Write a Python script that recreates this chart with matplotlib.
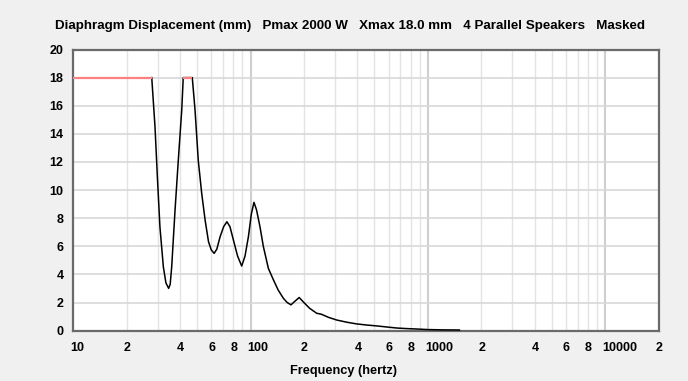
import matplotlib
matplotlib.use("Agg")
import matplotlib.pyplot as plt
import matplotlib.transforms as mtransforms
import numpy as np

# Data (frequency in Hz, displacement in mm)
freq_black = [27.7, 28.9, 29.8, 30.8, 32.2, 33.3, 34.5, 35.2, 35.9, 37.5, 39.1, 40.9, 41.7,
              46.9, 48.6, 50.7, 53.0, 55.4, 57.9, 60.0, 62.3, 64.5, 67.3, 70.5, 73.5, 76.5, 80.0,
              84.5, 89.1, 93.0, 97.2, 101.0, 104.5, 108.0, 113.0, 118.0, 126.0, 134.5, 143.0,
              153.0, 161.0, 169.0, 178.0, 188.0, 200.0, 215.0, 236.0, 251.0, 275.0, 306.0,
              350.0, 398.0, 455.0, 515.0, 590.0, 668.0, 760.0, 866.0, 1000.0, 1200.0, 1506.0]
disp_black = [18.0, 14.5, 10.95, 7.4, 4.55, 3.4, 3.01, 3.3, 4.55, 8.6, 12.1, 15.7, 18.0,
              18.0, 15.7, 12.1, 9.77, 7.87, 6.33, 5.75, 5.5, 5.8, 6.68, 7.4, 7.75, 7.4, 6.45,
              5.3, 4.6, 5.3, 6.68, 8.3, 9.13, 8.6, 7.39, 6.0, 4.43, 3.62, 2.9,
              2.31, 2.0, 1.84, 2.1, 2.36, 2.0, 1.6, 1.24, 1.17, 0.95, 0.76,
              0.6, 0.48, 0.4, 0.34, 0.26, 0.19, 0.15, 0.12, 0.08, 0.06, 0.05]

freq_red1 = [10.0, 27.7]
disp_red1 = [18.0, 18.0]
freq_red2 = [41.7, 46.9]
disp_red2 = [18.0, 18.0]

xticks = [10, 20, 40, 60, 80, 100, 200, 400, 600, 800, 1000, 2000, 4000, 6000, 8000, 10000, 20000]
xticklabels = ["10", "2", "4", "6", "8", "100", "2", "4", "6", "8", "1000", "2", "4", "6", "8", "10000", "2"]
yticks = list(range(0, 21, 2))

title = "Diaphragm Displacement (mm)   Pmax 2000 W   Xmax 18.0 mm   4 Parallel Speakers   Masked"
xlabel = "Frequency (hertz)"

plt.rcParams['font.family'] = ['Liberation Sans', 'DejaVu Sans']

fig = plt.figure(figsize=(6.88, 3.81), dpi=100, facecolor='#f0f0f0')
W, H = 688, 381
left, right, top, bottom = 73.3, 658.5, 49.5, 330.7
ax = fig.add_axes([left / W, 1 - bottom / H, (right - left) / W, (bottom - top) / H])
ax.set_facecolor('white')
ax.set_xscale('log')
ax.set_xlim(10, 20000)
ax.set_ylim(0, 20)

# grid lines
minor = []
for dec in [10, 100, 1000, 10000]:
    for m in range(2, 10):
        v = dec * m
        if v < 20000:
            minor.append(v)
for v in minor:
    ax.axvline(v, color='#e4e4e4', lw=1.0, zorder=0)
for v in [100, 1000, 10000]:
    ax.axvline(v, color='#cfcfcf', lw=1.5, zorder=0)
for v in yticks[1:-1]:
    ax.axhline(v, color='#d8d8d8', lw=1.2, zorder=0)

ax.plot(freq_black, disp_black, color='black', lw=1.1, zorder=3)
ax.plot(freq_red1, disp_red1, color='#ff8080', lw=1.6, zorder=4, solid_capstyle='butt')
ax.plot(freq_red2, disp_red2, color='#ff8080', lw=1.6, zorder=4, solid_capstyle='butt')

ax.set_xticks(xticks)
ax.set_xticklabels(xticklabels)
ax.xaxis.set_minor_locator(matplotlib.ticker.NullLocator())
ax.set_yticks(yticks)
ax.tick_params(axis='both', length=0, labelsize=9, colors='black')
ax.tick_params(axis='x', pad=8)
ax.tick_params(axis='y', pad=7)
offset = mtransforms.ScaledTranslation(-3 / 100, 0, fig.dpi_scale_trans)
for lab in ax.get_xticklabels():
    lab.set_horizontalalignment('left')
    lab.set_transform(lab.get_transform() + offset)
for lab in ax.get_xticklabels() + ax.get_yticklabels():
    lab.set_fontweight('bold')

for s in ax.spines.values():
    s.set_color('#6a6a6a')
    s.set_linewidth(1.6)

fig.text(0.508, 1 - 26 / H, title, ha='center', va='center', fontsize=9.6, fontweight='bold')
fig.text(0.5, 1 - 371 / H, xlabel, ha='center', va='center', fontsize=9.2, fontweight='bold')

fig.savefig('out.png', dpi=100, facecolor=fig.get_facecolor())
